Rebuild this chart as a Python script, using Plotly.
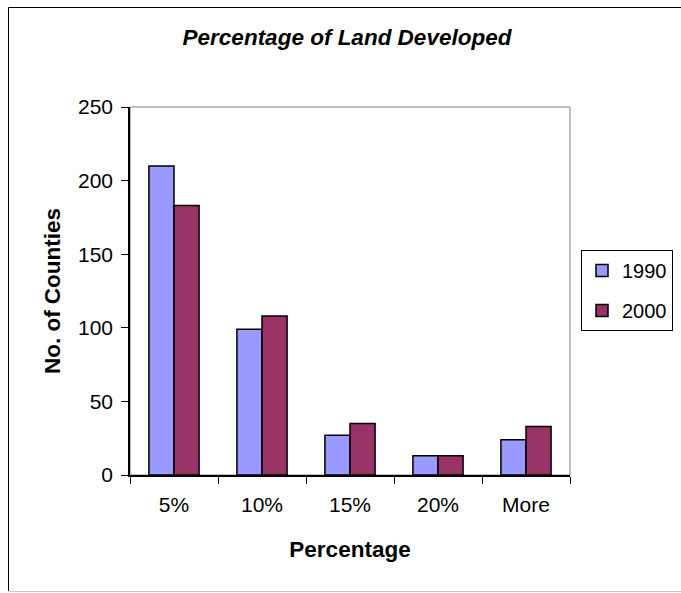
import plotly.graph_objects as go

categories = ["5%", "10%", "15%", "20%", "More"]
values_1990 = [210, 99, 27, 13, 24]
values_2000 = [183, 108, 35, 13, 33]
series_names = ["1990", "2000"]
y_ticks = [0, 50, 100, 150, 200, 250]

W, H = 681, 593
L, R, T, B = 130, 570, 107, 475  # plot area in pixels

def px(x):
    return (x - L) / (R - L)

def py(y):
    return (B - y) / (B - T)

FONT = "Liberation Sans, Arial, sans-serif"

fig = go.Figure()
fig.add_trace(go.Bar(
    x=categories, y=values_1990, name=series_names[0], legendgroup="a",
    marker=dict(color="#9999FF", line=dict(color="black", width=1.5)),
))
fig.add_trace(go.Bar(
    x=categories, y=values_2000, name=series_names[1], legendgroup="b",
    marker=dict(color="#993366", line=dict(color="black", width=1.5)),
))

shapes = [
    dict(type="rect", xref="paper", yref="paper", x0=0, x1=1, y0=0, y1=1,
         line=dict(color="#808080", width=1), layer="below"),
    dict(type="line", xref="paper", yref="paper", x0=px(8.5), x1=px(8.5),
         y0=py(7.5), y1=py(591), line=dict(color="black", width=1)),
    dict(type="line", xref="paper", yref="paper", x0=px(8.5), x1=px(700),
         y0=py(7.5), y1=py(7.5), line=dict(color="black", width=1)),
    dict(type="line", xref="paper", yref="paper", x0=px(8.5), x1=px(700),
         y0=py(591.5), y1=py(591.5), line=dict(color="#c8c8c8", width=1)),
]

fig.update_layout(
    width=W, height=H,
    margin=dict(l=L, r=W - R, t=T, b=H - B, pad=0, autoexpand=False),
    paper_bgcolor="white", plot_bgcolor="white",
    barmode="group", bargap=0.43, bargroupgap=0,
    font=dict(family=FONT, size=21, color="black"),
    title=dict(text="<b><i>Percentage of Land Developed</i></b>",
               x=347 / W, xanchor="center", y=1 - 37 / H, yanchor="middle",
               xref="container", yref="container",
               font=dict(family=FONT, size=22.5, color="black")),
    xaxis=dict(
        type="category", showline=True, linecolor="black", linewidth=1.5,
        ticks="outside", ticklen=7, tickcolor="black", tickwidth=1,
        tickson="boundaries", showgrid=False, zeroline=False, automargin=False,
        tickfont=dict(size=21), ticklabelstandoff=10,
        title=dict(text="<b>Percentage</b>", font=dict(size=22.5), standoff=26),
    ),
    yaxis=dict(
        range=[0, 250], tickvals=y_ticks, showline=True, linecolor="black",
        linewidth=1.5, ticks="outside", ticklen=7, tickcolor="black",
        showgrid=False, zeroline=False, automargin=False, tickfont=dict(size=21),
        ticklabelstandoff=4,
        title=dict(text="<b>No. of Counties</b>", font=dict(size=22.5), standoff=11),
    ),
    legend=dict(
        x=px(581), y=py(250), xanchor="left", yanchor="top",
        bordercolor="black", borderwidth=1, bgcolor="white",
        font=dict(size=20), traceorder="grouped", tracegroupgap=11,
        itemwidth=30,
    ),
    shapes=shapes,
)

fig.write_html("out.html")
